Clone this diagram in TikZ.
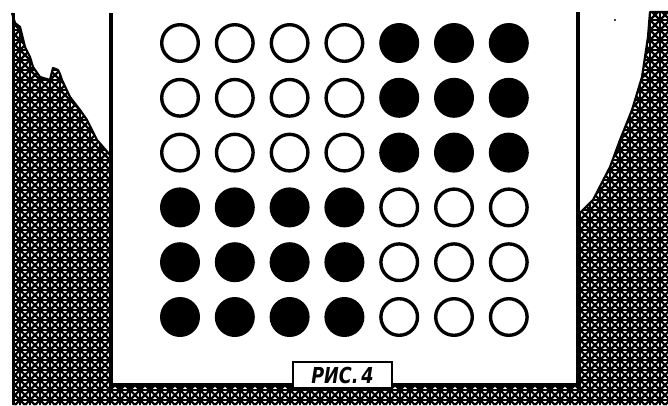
\documentclass[tikz,border=0pt]{standalone}
\usepackage{fontspec}
\setmainfont{DejaVu Sans}
\begin{document}
\begin{tikzpicture}[x=1pt,y=-1pt,
  opendot/.style={circle,draw,line width=3.4pt,inner sep=0pt,minimum size=36.6pt},
  fulldot/.style={circle,fill=black,inner sep=0pt,minimum size=40pt},
  wall/.style={line width=4pt,line join=miter},
  hatchline/.style={line width=2.4pt},
  edgeline/.style={line width=2.2pt,line join=round}]
\useasboundingbox (0,0) rectangle (668,405);
% hatched ground
\begin{scope}
\clip (12,13) -- (15,23) -- (20,27) -- (25,47) -- (30,57) -- (33,67) -- (40,77) -- (50,80) -- (53,68) -- (58,70) -- (60,74) -- (62,80) -- (70,97) -- (80,110) -- (87,120) -- (97,140) -- (110,155) -- (110,385) -- (578,385) -- (578,215) -- (593,200) -- (610,167) -- (620,140) -- (632,110) -- (642,77) -- (648,37) -- (650,12) -- (668,12) -- (668,405) -- (12,405) -- cycle;
\foreach \x in {0,10,...,680} \draw[hatchline] (\x,0) -- (\x,410);
\foreach \y in {0,10,...,420} \draw[hatchline] (0,\y) -- (670,\y);
\foreach \k in {-420,-410,...,680} \draw[hatchline] (\k,0) -- ({\k+420},420);
\foreach \k in {0,10,...,1090} \draw[hatchline] (\k,0) -- ({\k-420},420);
\end{scope}
% jagged slope edges
\draw[edgeline] (12,13) -- (15,23) -- (20,27) -- (25,47) -- (30,57) -- (33,67) -- (40,77) -- (50,80) -- (53,68) -- (58,70) -- (60,74) -- (62,80) -- (70,97) -- (80,110) -- (87,120) -- (97,140) -- (110,155);
\draw[edgeline] (578,215) -- (593,200) -- (610,167) -- (620,140) -- (632,110) -- (642,77) -- (648,37) -- (650,12) -- (668,12);
% walls
\draw[wall] (110.5,13) -- (110.5,384.5) -- (578,384.5) -- (578,12);
\draw[line width=3pt] (13.5,13) -- (13.5,405);
\fill (615,20) circle (1.2);
% circles
\foreach \j in {0,1,2} {
  \foreach \i in {0,...,3} \node[opendot] (c\i\j) at ({180+54.8*\i},{43+54.8*\j}) {};
  \foreach \i in {4,5,6} \node[fulldot] (c\i\j) at ({180+54.8*\i},{43+54.8*\j}) {};
}
\foreach \j in {3,4,5} {
  \foreach \i in {0,...,3} \node[fulldot] (c\i\j) at ({180+54.8*\i},{43+54.8*\j}) {};
  \foreach \i in {4,5,6} \node[opendot] (c\i\j) at ({180+54.8*\i},{43+54.8*\j}) {};
}
% label
\node[draw,fill=white,line width=2pt,minimum width=99pt,minimum height=26pt,inner sep=0pt] (lbl) at (342.5,375)
  {\scalebox{0.8}[1]{\fontsize{22}{22}\selectfont\bfseries\itshape РИС.\,4}};
\end{tikzpicture}
\end{document}
